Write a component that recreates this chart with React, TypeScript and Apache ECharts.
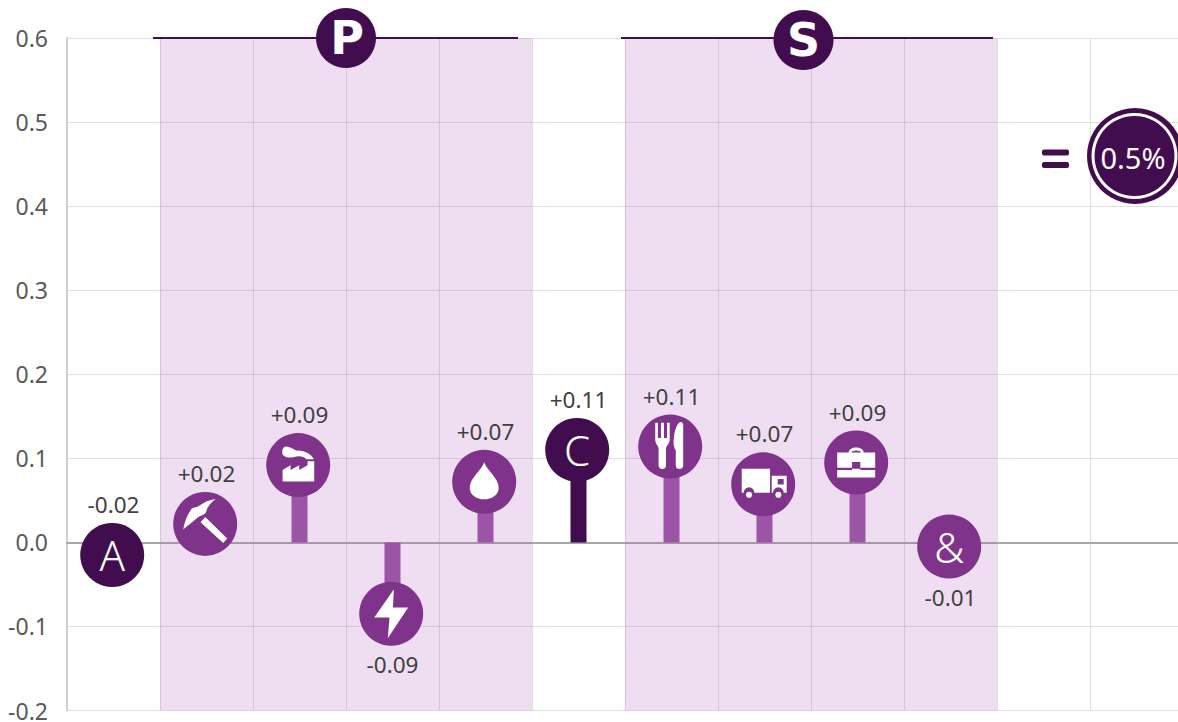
import React, { useEffect, useRef } from "react";
import * as echarts from "echarts";

const categories = ["Agriculture", "Mining", "Manufacturing", "Energy", "Water", "Construction", "Food", "Transport", "Business", "Other", "", " "];
const barValues = [null, null, 0.09, -0.09, 0.07, 0.11, 0.11, 0.07, 0.09, null, null, null];
const labelValues = [-0.02, 0.02, 0.09, -0.09, 0.07, 0.11, 0.11, 0.07, 0.09, -0.01];
const markerPositions = [-0.015, 0.022, 0.092, -0.085, 0.072, 0.11, 0.114, 0.069, 0.095, -0.005];
const labelSides = ["top", "top", "top", "bottom", "top", "top", "top", "top", "top", "bottom"];
const darkIndexes = [0, 5];
const bandTop = [null, 0.6, 0.6, 0.6, 0.6, null, 0.6, 0.6, 0.6, 0.6, null, null];
const bandBottom = [null, -0.2, -0.2, -0.2, -0.2, null, -0.2, -0.2, -0.2, -0.2, null, null];
const letters: [number, string][] = [[0, "A"], [5, "C"], [9, "&"]];

const DARK = "#420d4f";
const MID = "#7f338b";
const BAR = "#9b54a6";
const FONT = "'Noto Sans', sans-serif";
const HEAD_FONT = "'DejaVu Sans', sans-serif";

const icons: { i: number; d: string; size: [number, number]; off: [number, number] }[] = [
  {
    i: 1,
    d: "M40 305C44 282 52 262 62 248C66 238 74 240 84 236C100 224 118 215 137 213C122 224 112 238 110 248C108 262 92 262 82 270C68 282 52 294 40 305ZM92 283L106 267L172 332L160 345Z",
    size: [44, 44],
    off: [0, -3],
  },
  {
    i: 2,
    d: "M338 157V122L362 108V122L388 108V122L413 108V96H433V157ZM345 52C358 50 368 58 380 64C396 62 424 72 432 90L410 90C398 78 384 80 370 84C352 88 335 80 337 68C337 60 339 54 345 52Z",
    size: [32, 35],
    off: [0, -1],
  },
  { i: 3, d: "M58 0L0 85L45 85L40 148L100 55L55 55Z", size: [34, 49], off: [0, 0] },
  {
    i: 4,
    d: "M50 0C60 30 100 55 100 90C100 115 75 130 50 130C25 130 0 115 0 90C0 55 40 30 50 0Z",
    size: [29, 37],
    off: [0, -1],
  },
  {
    i: 6,
    d: "M75 42H83V88H92V42H101V88H110V42H118V92C118 105 108 110 107 118V170C107 184 85 184 85 170V118C84 110 75 105 75 92ZM150 40C156 40 158 45 158 50V170C158 184 136 184 136 170V125C130 115 128 105 130 90C132 65 140 42 150 40Z",
    size: [28, 47],
    off: [-1, -1],
  },
  {
    i: 7,
    d: "M330 182H415V252H368A16 16 0 0 0 336 252H330ZM420 202H465V252H456A16 16 0 0 0 424 252H420ZM438 212V228H456V212ZM343 258A9 9 0 1 1 361 258A9 9 0 1 1 343 258ZM431 258A9 9 0 1 1 449 258A9 9 0 1 1 431 258Z",
    size: [45, 29],
    off: [1, -1],
  },
  {
    i: 8,
    d: "M655 130C655 110 700 110 700 130H692C692 122 663 122 663 130ZM620 130H735V175H690V158H665V175H620ZM620 182H665V178H690V182H735V204H620Z",
    size: [38, 30],
    off: [0, 0],
  },
];

const signed = (v: number) => (v > 0 ? "+" : "") + v.toFixed(2);

export default function App() {
  const ref = useRef<HTMLDivElement>(null);
  useEffect(() => {
    document.body.style.margin = "0";
    document.body.style.overflow = "hidden";
    const chart = echarts.init(ref.current!, undefined, { renderer: "svg" });
    const xBase = {
      type: "category" as const,
      data: categories,
      axisTick: { show: false },
      axisLabel: { show: false },
    };
    chart.setOption({
      animation: false,
      backgroundColor: "#ffffff",
      grid: { left: 67, right: 17, top: 38, bottom: 11 },
      xAxis: [
        {
          ...xBase,
          axisLine: { onZero: true, lineStyle: { color: "#a6a6a6", width: 2 } },
          splitLine: { show: true, interval: 0, lineStyle: { color: "#dfdfdf", width: 1 } },
        },
        { ...xBase, show: false },
      ],
      yAxis: {
        type: "value",
        min: -0.2,
        max: 0.6,
        interval: 0.1,
        axisLine: { show: true, lineStyle: { color: "#d0d0d0", width: 2 } },
        axisTick: { show: false },
        axisLabel: {
          color: "#595959",
          fontSize: 23,
          fontFamily: FONT,
          margin: 19,
          formatter: (v: number) => v.toFixed(1),
        },
        splitLine: { lineStyle: { color: "#dfdfdf", width: 1 } },
      },
      series: [
        {
          type: "bar",
          xAxisIndex: 1,
          data: bandTop,
          barWidth: "100%",
          barGap: "-100%",
          z: 1,
          silent: true,
          itemStyle: { color: "rgba(175,90,190,0.2)" },
        },
        {
          type: "bar",
          xAxisIndex: 1,
          data: bandBottom,
          barWidth: "100%",
          barGap: "-100%",
          z: 1,
          silent: true,
          itemStyle: { color: "rgba(175,90,190,0.2)" },
        },
        {
          type: "bar",
          data: barValues.map((v, i) => ({
            value: v,
            itemStyle: { color: darkIndexes.includes(i) ? DARK : BAR },
          })),
          barWidth: 16,
          z: 2,
        },
        {
          type: "scatter",
          symbol: "circle",
          symbolSize: 64,
          symbolOffset: [-1.3, 0],
          clip: false,
          z: 3,
          data: markerPositions.map((v, i) => ({
            value: [i, v],
            itemStyle: { color: darkIndexes.includes(i) ? DARK : MID, opacity: 1 },
          })),
        },
        {
          type: "scatter",
          clip: false,
          z: 4,
          data: icons.map((c) => ({
            value: [c.i, markerPositions[c.i]],
            symbol: "path://" + c.d,
            symbolSize: c.size,
            symbolOffset: [c.off[0] - 1.3, c.off[1]],
            itemStyle: { color: "#ffffff", opacity: 1 },
          })),
        },
        {
          type: "scatter",
          clip: false,
          z: 5,
          symbol: "circle",
          symbolSize: 2,
          itemStyle: { color: "transparent", opacity: 1 },
          data: letters.map(([i, t]) => ({
            value: [i, markerPositions[i]],
            label: {
              show: true,
              position: "inside",
              formatter: t,
              color: "#ffffff",
              fontSize: 42,
              fontWeight: 300,
              fontFamily: FONT,
              offset: [-1.3, 0],
            },
          })),
        },
        {
          type: "scatter",
          clip: false,
          z: 6,
          symbol: "circle",
          symbolSize: 64,
          itemStyle: { color: "transparent", opacity: 1 },
          data: labelValues.map((v, i) => ({
            value: [i, markerPositions[i]],
            label: {
              show: true,
              position: labelSides[i],
              distance: 7,
              formatter: signed(v),
              color: "#404040",
              fontSize: 22.5,
              fontFamily: FONT,
            },
          })),
        },
      ],
      graphic: [
        { type: "line", z: 10, shape: { x1: 153, y1: 38, x2: 518, y2: 38 }, style: { stroke: DARK, lineWidth: 2 } },
        { type: "line", z: 10, shape: { x1: 621, y1: 38, x2: 993, y2: 38 }, style: { stroke: DARK, lineWidth: 2 } },
        { type: "circle", z: 11, shape: { cx: 346, cy: 38, r: 30 }, style: { fill: DARK } },
        { type: "circle", z: 11, shape: { cx: 803.5, cy: 40, r: 30 }, style: { fill: DARK } },
        {
          type: "text",
          z: 12,
          x: 347,
          y: 38,
          style: { text: "P", fill: "#fff", fontSize: 46, fontWeight: 700, fontFamily: HEAD_FONT, align: "center", verticalAlign: "middle" },
        },
        {
          type: "text",
          z: 12,
          x: 803.5,
          y: 40,
          style: { text: "S", fill: "#fff", fontSize: 46, fontWeight: 700, fontFamily: HEAD_FONT, align: "center", verticalAlign: "middle" },
        },
        { type: "rect", z: 11, shape: { x: 1042, y: 149.5, width: 27, height: 6, r: 2 }, style: { fill: DARK } },
        { type: "rect", z: 11, shape: { x: 1042, y: 162, width: 27, height: 6, r: 2 }, style: { fill: DARK } },
        { type: "circle", z: 11, shape: { cx: 1135, cy: 156, r: 48 }, style: { fill: DARK } },
        { type: "circle", z: 12, shape: { cx: 1134.5, cy: 156, r: 41.5 }, style: { fill: "none", stroke: "#fff", lineWidth: 3 } },
        {
          type: "text",
          z: 13,
          x: 1133,
          y: 157,
          style: { text: "0.5%", fill: "#fff", fontSize: 29, fontFamily: FONT, align: "center", verticalAlign: "middle" },
        },
      ],
    });
    return () => chart.dispose();
  }, []);
  return (
    <div style={{ width: 1178, height: 722, overflow: "hidden" }}>
      <div ref={ref} style={{ width: 1200, height: 722 }} />
    </div>
  );
}
